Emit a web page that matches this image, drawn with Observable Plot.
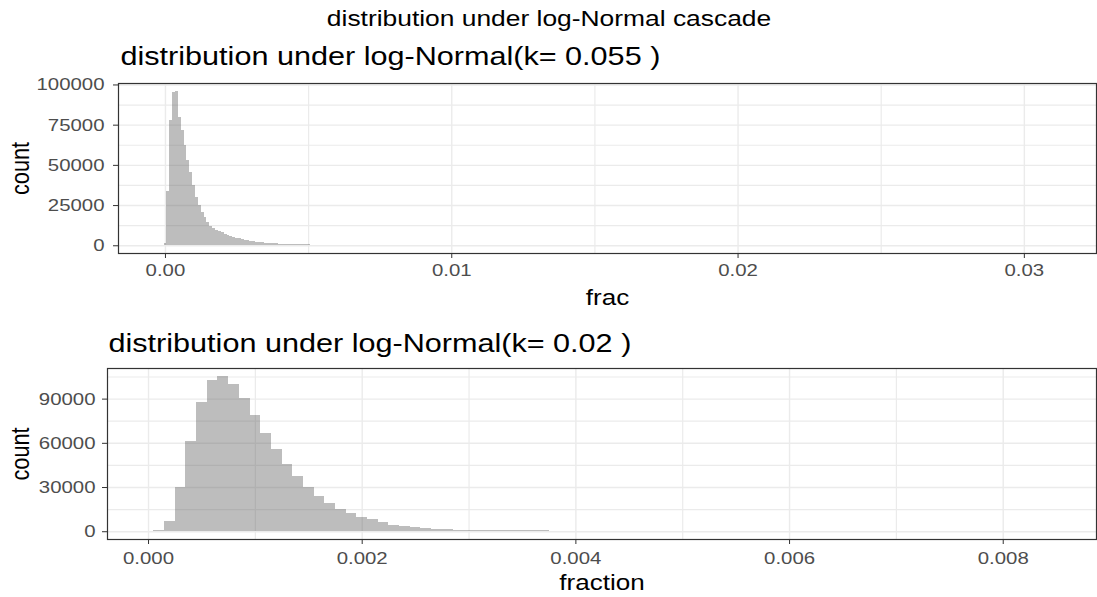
<!DOCTYPE html>
<html>
<head>
<meta charset="utf-8">
<script src="https://cdn.jsdelivr.net/npm/d3@7"></script>
<script src="https://cdn.jsdelivr.net/npm/@observablehq/plot@0.6"></script>
<style>
  html, body { margin: 0; padding: 0; background: #ffffff; }
  #chart { width: 1097px; height: 597px; overflow: hidden; }
  #chart svg { display: block; }
</style>
</head>
<body>
<div id="chart"></div>
<script>
// ---- data: histogram of frac, log-Normal k = 0.055 (bins of width 0.0001) ----
const fracCenters = [
  0.0000, 0.0001, 0.0002, 0.0003, 0.0004, 0.0005, 0.0006, 0.0007, 0.0008, 0.0009,
  0.0010, 0.0011, 0.0012, 0.0013, 0.0014, 0.0015, 0.0016, 0.0017, 0.0018, 0.0019,
  0.0020, 0.0021, 0.0022, 0.0023, 0.0024, 0.0025, 0.0026, 0.0027, 0.0028, 0.0029,
  0.0030, 0.0031, 0.0032, 0.0033, 0.0034, 0.0035, 0.0036, 0.0037, 0.0038, 0.0039,
  0.0040, 0.0041, 0.0042, 0.0043, 0.0044, 0.0045, 0.0046, 0.0047, 0.0048, 0.0049,
  0.0050
];
const fracCounts = [
  1200, 33700, 78000, 95300, 96100, 80000, 71700, 62300, 53000, 45700,
  37500, 30200, 25000, 20900, 17800, 14700, 12200, 10800, 9800, 8900,
  8100, 7300, 6600, 5900, 5300, 4800, 4300, 3800, 3400, 3000,
  2700, 2400, 2200, 2000, 1800, 1650, 1500, 1400, 1300, 1200,
  1100, 1050, 1000, 950, 900, 850, 800, 750, 700, 700,
  700
];

// ---- data: histogram of fraction, log-Normal k = 0.02 (bins of width 0.0001) ----
const fractionCenters = [
  0.0001, 0.0002, 0.0003, 0.0004, 0.0005, 0.0006, 0.0007, 0.0008, 0.0009, 0.0010,
  0.0011, 0.0012, 0.0013, 0.0014, 0.0015, 0.0016, 0.0017, 0.0018, 0.0019, 0.0020,
  0.0021, 0.0022, 0.0023, 0.0024, 0.0025, 0.0026, 0.0027, 0.0028, 0.0029, 0.0030,
  0.0031, 0.0032, 0.0033, 0.0034, 0.0035, 0.0036, 0.0037
];
const fractionCounts = [
  800, 7000, 29800, 61400, 88000, 102300, 105500, 100200, 90200, 78900,
  66800, 55700, 45700, 37500, 29800, 23900, 19100, 14800, 12700, 9800,
  8000, 6400, 4500, 3400, 2600, 2300, 1400, 1300, 1100, 800,
  800, 750, 750, 700, 700, 700, 700
];
const binWidth = 0.0001;

// ---- axes: ticks and their labels ----
const topXTicks = [0, 0.01, 0.02, 0.03];
const topXLabels = ["0.00", "0.01", "0.02", "0.03"];
const topXMinor = [0.005, 0.015, 0.025];
const topYTicks = [0, 25000, 50000, 75000, 100000];
const topYLabels = ["0", "25000", "50000", "75000", "100000"];
const topYMinor = [12500, 37500, 62500, 87500];
const topXDomain = [-0.00164, 0.03252];

const botXTicks = [0, 0.002, 0.004, 0.006, 0.008];
const botXLabels = ["0.000", "0.002", "0.004", "0.006", "0.008"];
const botXMinor = [0.001, 0.003, 0.005, 0.007];
const botYTicks = [0, 30000, 60000, 90000];
const botYLabels = ["0", "30000", "60000", "90000"];
const botYMinor = [15000, 45000, 75000, 105000];
const botXDomain = [-0.000384, 0.008873];

// ---- text ----
const mainTitle = "distribution under log-Normal cascade";
const topTitle = "distribution under log-Normal(k= 0.055 )";
const botTitle = "distribution under log-Normal(k= 0.02 )";
const yTitle = "count";
const topXTitle = "frac";
const botXTitle = "fraction";

const FONT = "'Liberation Sans', Arial, Helvetica, sans-serif";
const STRETCH = 1.2;   // glyphs are set slightly wide
const GRID = "#ebebeb", INK = "#333333", TICKTEXT = "#4d4d4d";
const BAR_FILL = "#595959", BAR_ALPHA = 0.4;

function bins(centers, counts) {
  return centers.map((c, i) => ({x1: c - binWidth / 2, x2: c + binWidth / 2, count: counts[i]}));
}
function expanded(max) { return [-0.05 * max, 1.05 * max]; }
function labeller(ticks, labels) {
  const m = new Map(ticks.map((t, i) => [t, labels[i]]));
  return d => m.get(d);
}

function panel({data, xDomain, xTicks, xLabels, xMinor, yTicks, yLabels, yMinor,
                height, marginTop, marginBottom, marginLeft, xPad, yPad,
                title, titleDx, titleDy, xTitle, xTitleDy, extra = []}) {
  const ymax = d3.max(data, d => d.count);
  return Plot.plot({
    width: 1097,
    height,
    marginTop, marginBottom, marginLeft, marginRight: 1,
    style: {fontFamily: FONT, background: "#ffffff", color: INK, overflow: "visible"},
    x: {domain: xDomain},
    y: {domain: expanded(ymax)},
    marks: [
      Plot.gridX(xMinor, {stroke: GRID, strokeOpacity: 1, strokeWidth: 1.2}),
      Plot.gridY(yMinor, {stroke: GRID, strokeOpacity: 1, strokeWidth: 1.2}),
      Plot.gridX(xTicks, {stroke: GRID, strokeOpacity: 1, strokeWidth: 1.4}),
      Plot.gridY(yTicks, {stroke: GRID, strokeOpacity: 1, strokeWidth: 1.4}),
      Plot.rectY(data, {x1: "x1", x2: "x2", y: "count", fill: BAR_FILL, fillOpacity: BAR_ALPHA,
                        shapeRendering: "crispEdges"}),
      Plot.frame({stroke: INK, strokeWidth: 1.2}),
      Plot.axisX(xTicks, {tickFormat: labeller(xTicks, xLabels), tickSize: 5, tickPadding: xPad,
                          fontSize: 17, label: null}),
      Plot.axisY(yTicks, {tickFormat: labeller(yTicks, yLabels), tickSize: 5, tickPadding: yPad,
                          fontSize: 17, label: null}),
      Plot.text([title], {text: d => d, frameAnchor: "top-left", textAnchor: "start",
                          lineAnchor: "bottom", dx: titleDx, dy: titleDy, fontSize: 25.5, fill: "#000000"}),
      Plot.text([yTitle], {text: d => d, frameAnchor: "left", rotate: -90, textAnchor: "middle",
                           lineAnchor: "middle", dx: 20 - marginLeft, fontSize: 21.7, fill: "#000000"}),
      Plot.text([xTitle], {text: d => d, frameAnchor: "bottom", textAnchor: "middle",
                           lineAnchor: "bottom", dy: xTitleDy, fontSize: 21.7, fill: "#000000"}),
      ...extra
    ]
  });
}

// widen every glyph about its anchor point
function stretchText(svg) {
  svg.querySelectorAll("text").forEach(t => {
    const tr = t.getAttribute("transform") || "";
    t.setAttribute("transform", tr + (tr.includes("rotate") ? ` scale(1,${STRETCH})` : ` scale(${STRETCH},1)`));
  });
  svg.querySelectorAll('g[aria-label$="tick label"]').forEach(g => g.setAttribute("fill", TICKTEXT));
}

const topPanel = panel({
  data: bins(fracCenters, fracCounts),
  xDomain: topXDomain, xTicks: topXTicks, xLabels: topXLabels, xMinor: topXMinor,
  yTicks: topYTicks, yLabels: topYLabels, yMinor: topYMinor,
  height: 310, marginTop: 83, marginBottom: 57, marginLeft: 118, xPad: 5, yPad: 9,
  title: topTitle, titleDx: 2, titleDy: -19,
  xTitle: topXTitle, xTitleDy: 51,
  extra: [
    Plot.text([mainTitle], {text: d => d, frameAnchor: "top", textAnchor: "middle", lineAnchor: "bottom",
                            dx: 548.5 - (118 + 1096) / 2, dy: 25 - 83, fontSize: 22, fill: "#000000"})
  ]
});

const bottomPanel = panel({
  data: bins(fractionCenters, fractionCounts),
  xDomain: botXDomain, xTicks: botXTicks, xLabels: botXLabels, xMinor: botXMinor,
  yTicks: botYTicks, yLabels: botYLabels, yMinor: botYMinor,
  height: 287, marginTop: 58, marginBottom: 58, marginLeft: 107, xPad: 7, yPad: 7,
  title: botTitle, titleDx: 1, titleDy: -17,
  xTitle: botXTitle, xTitleDy: 50
});

const chart = document.getElementById("chart");
[topPanel, bottomPanel].forEach(svg => { stretchText(svg); chart.appendChild(svg); });
</script>
</body>
</html>
